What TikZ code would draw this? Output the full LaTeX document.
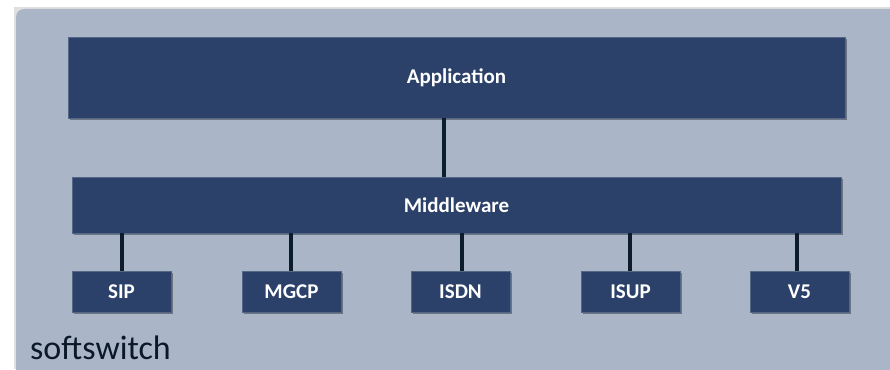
\documentclass[tikz,border=0pt]{standalone}
\usepackage{fontspec}
\setmainfont{Carlito}
\usetikzlibrary{shadows}
\definecolor{bgc}{HTML}{AAB5C8}
\definecolor{boxc}{HTML}{2B4169}
\definecolor{linec}{HTML}{0C1C2B}
\tikzset{
  layer/.style={fill=boxc, draw=boxc!80!white, line width=0.4pt, inner sep=0pt,
    text=white, font=\fontsize{21}{24}\selectfont\bfseries,
    drop shadow={shadow xshift=2pt, shadow yshift=-2pt, opacity=0.35, fill=black}},
  link/.style={draw=linec, line width=3.5pt}
}
\begin{document}
\begin{tikzpicture}[x=1pt,y=-1pt]
\useasboundingbox (0,0) rectangle (890,369);
\fill[white] (0,0) rectangle (890,369);
\fill[black, opacity=0.12] (14,7) rectangle (890,369);
\fill[bgc, rounded corners=8pt] (16,9) rectangle (900,380);
% layers
\node[layer, minimum width=777pt, minimum height=81pt] (app) at (456.5,77.5) {Application};
\node[layer, minimum width=769pt, minimum height=56pt] (mid) at (456.5,205) {Middleware};
\foreach \n/\t/\x in {sip/SIP/121.5, mgcp/MGCP/291.5, isdn/ISDN/460.5, isup/ISUP/630.5, vfive/V5/799.5}{
  \node[layer, minimum width=99pt, minimum height=41pt] (\n) at (\x,291.5) {\t};
}
% connectors
\draw[link] (app.south -| 444,0) -- (mid.north -| 444,0);
\foreach \n/\x in {sip/122, mgcp/291, isdn/462, isup/630, vfive/797}{
  \draw[link] (mid.south -| \x,0) -- (\n.north -| \x,0);
}
\node[anchor=base west, inner sep=0pt, text=linec!90!black, font=\fontsize{34}{38}\selectfont] (lbl) at (30,359) {softswitch};
\end{tikzpicture}
\end{document}
